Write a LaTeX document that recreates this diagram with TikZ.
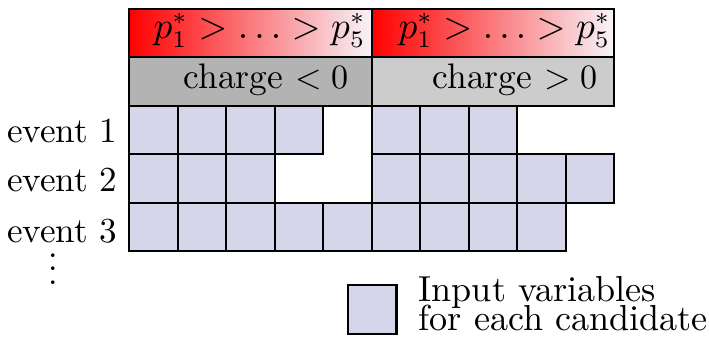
\documentclass[tikz,border=0pt]{standalone}
\begin{document}
\begin{tikzpicture}[x=0.5cm,y=-0.5cm]
\definecolor{cellc}{RGB}{214,214,234}
\definecolor{midpink}{RGB}{222,150,176}
\definecolor{endw}{RGB}{246,244,250}
\definecolor{grayA}{RGB}{179,179,179}
\definecolor{grayB}{RGB}{204,204,204}
\tikzset{
  cell/.style={draw=black, fill=cellc, minimum width=0.5cm, minimum height=0.5cm, inner sep=0pt, anchor=north west, line width=0.6pt},
  hdr/.style={draw=black, shading=axis, left color=red, middle color=midpink, right color=endw, shading angle=90, minimum width=2.5cm, minimum height=0.5cm, inner sep=0pt, anchor=north west, line width=0.6pt},
  chg/.style={draw=black, minimum width=2.5cm, minimum height=0.5cm, inner sep=0pt, anchor=north west, line width=0.6pt},
  lbl/.style={inner sep=0pt, anchor=base west},
  evt/.style={inner sep=0pt, anchor=base east, font=\fontsize{10.3}{12.4}\selectfont}
}
\useasboundingbox (-2.639,-0.159) rectangle (11.979,6.79);
% headers
\node[hdr] (h1) at (0,0) {};
\node[hdr] (h2) at (5,0) {};
\node[chg, fill=grayA] (c1) at (0,1) {};
\node[chg, fill=grayB] (c2) at (5,1) {};
\node[lbl, font=\fontsize{10.5}{12.6}\selectfont] (t1) at (0.515,0.635) {$p_1^* > \ldots > p_5^*$};
\node[lbl, font=\fontsize{10.5}{12.6}\selectfont] (t2) at (5.566,0.635) {$p_1^* > \ldots > p_5^*$};
\node[lbl, font=\fontsize{10.4}{12.5}\selectfont] (t3) at (1.134,1.662) {charge $<0$};
\node[lbl, font=\fontsize{10.4}{12.5}\selectfont] (t4) at (6.268,1.662) {charge $>0$};
% event 1
\foreach \i in {0,...,3} {\node[cell] (ea\i) at (\i,2) {};}
\foreach \i in {5,...,7} {\node[cell] (ea\i) at (\i,2) {};}
% event 2
\foreach \i in {0,...,2} {\node[cell] (eb\i) at (\i,3) {};}
\foreach \i in {5,...,9} {\node[cell] (eb\i) at (\i,3) {};}
% event 3
\foreach \i in {0,...,8} {\node[cell] (ec\i) at (\i,4) {};}
% labels
\node[evt] (l1) at (-0.206,2.77) {event 1};
\node[evt] (l2) at (-0.206,3.79) {event 2};
\node[evt] (l3) at (-0.206,4.85) {event 3};
\node (dots) at (-1.55,5.18) {$\vdots$};
% legend
\node[cell] (leg) at (4.515,5.697) {};
\node[inner sep=0pt, anchor=base west, align=left, font=\fontsize{10.6}{12.7}\selectfont] (legt) at (5.98,6.645) {Input variables\\[-4.4pt]for each candidate};
\end{tikzpicture}
\end{document}
